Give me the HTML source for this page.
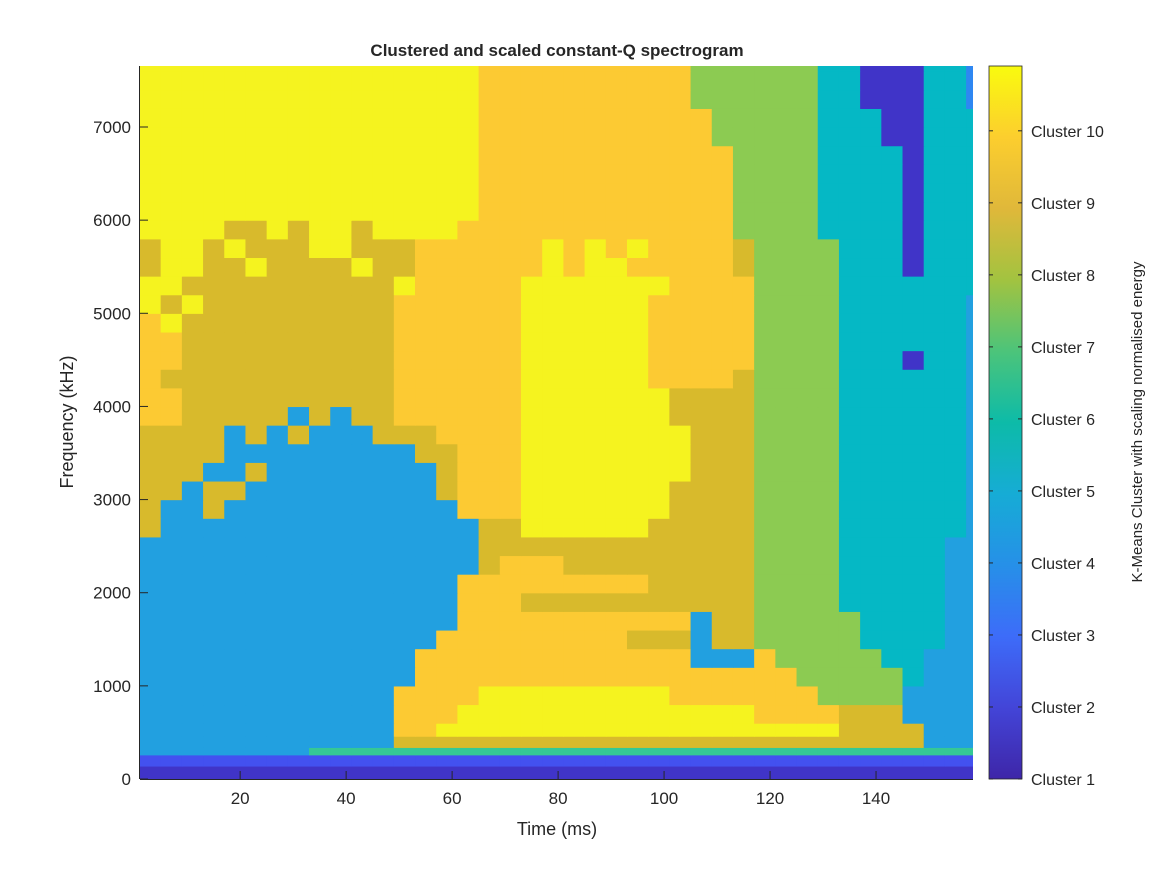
<!DOCTYPE html>
<html><head><meta charset="utf-8"><style>
body{margin:0;background:#fff;}
svg text{font-family:"Liberation Sans",Arial,sans-serif;fill:#262626;}
</style></head><body>
<svg id="chart" width="1167" height="875" viewBox="0 0 1167 875" xmlns="http://www.w3.org/2000/svg">
<rect width="1167" height="875" fill="#fff"/>
<defs><clipPath id="plotclip"><rect x="140" y="66" width="833" height="713"/></clipPath></defs>
<g id="cells" clip-path="url(#plotclip)"></g>
<g id="axes"></g>
<g id="cbar"></g>
<text x="557" y="56" font-size="17" font-weight="bold" text-anchor="middle">Clustered and scaled constant-Q spectrogram</text>
<text x="557" y="835" font-size="18" text-anchor="middle">Time (ms)</text>
<text x="0" y="0" font-size="18" text-anchor="middle" transform="translate(73,422) rotate(-90)">Frequency (kHz)</text>
<text x="0" y="0" font-size="15" text-anchor="middle" transform="translate(1142,422) rotate(-90)">K-Means Cluster with scaling normalised energy</text>
</svg>
<script>
// time columns (ms start, width)
const timeStart = 1;
const timeStep = 4;
const numCols = 40;
// frequency row edges (Hz), bottom to top
const freqEdges = [0,140,260,340,460,600,800,1000,1200,1400,1600,1800,2000,2200,2400,2600,2800,3000,3200,3400,3600,3800,4000,4200,4400,4600,4800,5000,5200,5400,5600,5800,6000,6200,6400,6600,6800,7000,7200,7400,7600,7800];
// cluster rows, run-length "cluster:count", bottom row first
const clusterRows = [
"1:40",
"2:40",
"4:8 6:32",
"4:12 8:25 4:3",
"4:12 9:2 10:19 8:4 4:3",
"4:12 9:3 10:14 9:4 8:3 4:4",
"4:12 9:4 10:9 9:7 7:4 4:4",
"4:13 9:18 7:5 5:1 4:3",
"4:13 9:13 4:3 9:1 7:5 5:2 4:3",
"4:14 9:9 8:3 4:1 8:2 7:5 5:4 4:2",
"4:15 9:11 4:1 8:2 7:5 5:4 4:2",
"4:15 9:3 8:11 7:4 5:5 4:2",
"4:15 9:9 8:5 7:4 5:5 4:2",
"4:16 8:1 9:3 8:9 7:4 5:5 4:2",
"4:16 8:13 7:4 5:5 4:2",
"8:1 4:15 8:2 10:6 8:5 7:4 5:6 4:1",
"8:1 4:2 8:1 4:11 9:3 10:7 8:4 7:4 5:6 4:1",
"8:2 4:1 8:2 4:9 8:1 9:3 10:7 8:4 7:4 5:6 4:1",
"8:3 4:2 8:1 4:8 8:1 9:3 10:8 8:3 7:4 5:6 4:1",
"8:4 4:9 8:2 9:3 10:8 8:3 7:4 5:6 4:1",
"8:4 4:1 8:1 4:1 8:1 4:3 8:3 9:4 10:8 8:3 7:4 5:6 4:1",
"9:2 8:5 4:1 8:1 4:1 8:2 9:6 10:7 8:4 7:4 5:6 4:1",
"9:2 8:10 9:6 10:7 8:4 7:4 5:6 4:1",
"9:1 8:11 9:6 10:6 9:4 8:1 7:4 5:6 4:1",
"9:2 8:10 9:6 10:6 9:5 7:4 5:3 1:1 5:2 4:1",
"9:2 8:10 9:6 10:6 9:5 7:4 5:6 4:1",
"9:1 10:1 8:10 9:6 10:6 9:5 7:4 5:6 4:1",
"10:1 8:1 10:1 8:9 9:6 10:6 9:5 7:4 5:6 4:1",
"10:2 8:10 10:1 9:5 10:7 9:4 7:4 5:7",
"8:1 10:2 8:2 10:1 8:4 10:1 8:2 9:6 10:1 9:1 10:2 9:5 8:1 7:4 5:3 1:1 5:3",
"8:1 10:2 8:1 10:1 8:3 10:2 8:3 9:6 10:1 9:1 10:1 9:1 10:1 9:4 8:1 7:4 5:3 1:1 5:3",
"10:4 8:2 10:1 8:1 10:2 8:1 10:4 9:13 7:4 5:4 1:1 5:3",
"10:16 9:12 7:4 5:4 1:1 5:3",
"10:16 9:12 7:4 5:4 1:1 5:3",
"10:16 9:12 7:4 5:4 1:1 5:3",
"10:16 9:12 7:4 5:4 1:1 5:3",
"10:16 9:11 7:5 5:3 1:2 5:3",
"10:16 9:11 7:5 5:3 1:2 5:3",
"10:16 9:10 7:6 5:2 1:3 5:2 3:1",
"10:16 9:10 7:6 5:2 1:3 5:2 3:1",
"10:16 9:10 7:6 5:2 1:3 5:2 3:1"
];
const clusterColors = ["#4034c8","#4351f0","#2e87f2","#22a0e0","#05b8c5","#35c895","#8ccb52","#d8ba2c","#fcca33","#f5f31f"];
const xTicks = [20,40,60,80,100,120,140];
const yTicks = [0,1000,2000,3000,4000,5000,6000,7000];
const cbTicks = [1,2,3,4,5,6,7,8,9,10];

const NS="http://www.w3.org/2000/svg";
const X0=140,X1=973,Y0=66,Y1=779;
const tMin=1.1,tMax=158.3,fMax=7655;
function xS(t){return X0+(t-tMin)/(tMax-tMin)*(X1-X0);}
function yS(f){return Y1-f/fMax*(Y1-Y0);}
function mk(tag,attrs,parent){const e=document.createElementNS(NS,tag);for(const k in attrs)e.setAttribute(k,attrs[k]);parent.appendChild(e);return e;}

const cells=document.getElementById('cells');
clusterRows.forEach((row,r)=>{
  const vals=[];
  row.split(' ').forEach(seg=>{const p=seg.split(':');for(let i=0;i<+p[1];i++)vals.push(+p[0]);});
  while(vals.length<numCols)vals.push(vals[vals.length-1]);
  const y1=yS(freqEdges[r]),y2=yS(freqEdges[r+1]);
  for(let c=0;c<numCols;c++){
    const xa=xS(timeStart+c*timeStep),xb=xS(timeStart+(c+1)*timeStep);
    const el=mk('rect',{x:xa,y:y2,width:xb-xa+0.6,height:y1-y2+0.6,fill:clusterColors[vals[c]-1]},cells);
    
    
  }
});

const axes=document.getElementById('axes');
let l=mk('line',{x1:X0,y1:Y1+0.5,x2:X1,y2:Y1+0.5,stroke:'#262626','stroke-width':1},axes);


l=mk('line',{x1:X0-0.5,y1:Y0,x2:X0-0.5,y2:Y1,stroke:'#262626','stroke-width':1},axes);


xTicks.forEach(t=>{
  const x=xS(t);
  mk('line',{x1:x,y1:Y1,x2:x,y2:Y1-8,stroke:'#262626'},axes);
  const tx=mk('text',{x:x,y:Y1+25,'font-size':17,'text-anchor':'middle'},axes);
  tx.textContent=t;
  
  
});
yTicks.forEach(f=>{
  const y=yS(f);
  mk('line',{x1:X0,y1:y,x2:X0+8,y2:y,stroke:'#262626'},axes);
  const tx=mk('text',{x:X0-9,y:y+6,'font-size':17,'text-anchor':'end'},axes);
  tx.textContent=f;
  
  
});

// colorbar
const cb=document.getElementById('cbar');
const CBX=989,CBW=33,vMin=1,vMax=10.9;
function cbY(v){return Y1-(v-vMin)/(vMax-vMin)*(Y1-Y0);}
const defs=mk('defs',{},cb);
const grad=mk('linearGradient',{id:'parula',x1:0,y1:1,x2:0,y2:0},defs);
const parulaStops=["#3e26a8","#4345d8","#3d6cf9","#2690e8","#16acd5","#0dbba8","#4cc47a","#a2c340","#e0b83a","#fcce2e","#f9fb0e"];
parulaStops.forEach((c,i)=>mk('stop',{offset:(i/(parulaStops.length-1)),'stop-color':c},grad));
const cbr=mk('rect',{x:CBX,y:Y0,width:CBW,height:Y1-Y0,fill:'url(#parula)',stroke:'#262626','stroke-width':0.8},cb);


cbTicks.forEach(v=>{
  const y=cbY(v);
  mk('line',{x1:CBX,y1:y,x2:CBX+4,y2:y,stroke:'#262626'},cb);
  mk('line',{x1:CBX+CBW-4,y1:y,x2:CBX+CBW,y2:y,stroke:'#262626'},cb);
  const tx=mk('text',{x:1031,y:y+6,'font-size':16},cb);
  tx.textContent='Cluster '+v;
  
  
});
</script>
</body></html>
